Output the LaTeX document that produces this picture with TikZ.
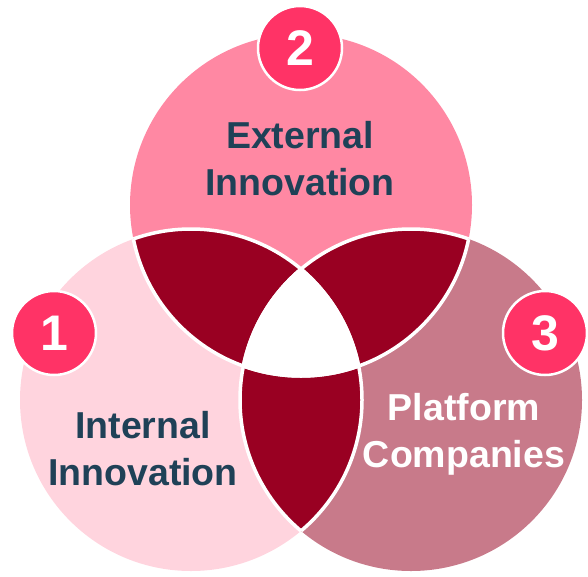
\documentclass[tikz,border=0pt]{standalone}
\usepackage{fontspec}
\setmainfont{Liberation Sans}
\definecolor{toppink}{HTML}{FF88A3}
\definecolor{leftpink}{HTML}{FFD4DE}
\definecolor{rightrose}{HTML}{C87A8A}
\definecolor{darkred}{HTML}{990022}
\definecolor{badgepink}{HTML}{FF3366}
\definecolor{navy}{HTML}{1F4157}
\begin{document}
\begin{tikzpicture}[x=1pt,y=-1pt,
  lbl/.style={font=\bfseries\fontsize{37.5}{47}\selectfont, align=center, inner sep=0pt},
  badge/.style={circle, fill=badgepink, draw=white, line width=2.5pt, minimum size=84pt, inner sep=0pt, text=white, font=\bfseries\fontsize{50}{50}\selectfont},
  lensline/.style={draw=white, line width=3.5pt}]
\useasboundingbox (0,0) rectangle (588,576);
\def\R{171}
\coordinate (T) at (301,205);
\coordinate (L) at (191,400);
\coordinate (Rt) at (411,400);
% circles
\fill[leftpink] (L) circle (\R);
\fill[rightrose] (Rt) circle (\R);
\fill[toppink] (T) circle (\R);
% lenses
\begin{scope}\clip (T) circle (\R); \fill[darkred] (L) circle (\R); \end{scope}
\begin{scope}\clip (T) circle (\R); \fill[darkred] (Rt) circle (\R); \end{scope}
\begin{scope}\clip (L) circle (\R); \fill[darkred] (Rt) circle (\R); \end{scope}
% white outlines within overlaps
\begin{scope}\clip (T) circle (\R); \draw[lensline] (L) circle (\R); \draw[lensline] (Rt) circle (\R); \end{scope}
\begin{scope}\clip (L) circle (\R); \draw[lensline] (T) circle (\R); \draw[lensline] (Rt) circle (\R); \end{scope}
\begin{scope}\clip (Rt) circle (\R); \draw[lensline] (T) circle (\R); \draw[lensline] (L) circle (\R); \end{scope}
% triple intersection
\begin{scope}\clip (T) circle (\R); \clip (L) circle (\R); \fill[white] (Rt) circle (\R); \end{scope}
% labels
\node[lbl, text=navy] (ext) at (300,159) {External\\Innovation};
\node[lbl, text=navy] (int) at (143,449) {Internal\\Innovation};
\node[lbl, text=white] (plat) at (464,434) {Platform\\Companies};
% badges
\node[badge] (b2) at (300,48) {2};
\node[badge] (b1) at (54,333) {1};
\node[badge] (b3) at (545,333) {3};
\end{tikzpicture}
\end{document}
